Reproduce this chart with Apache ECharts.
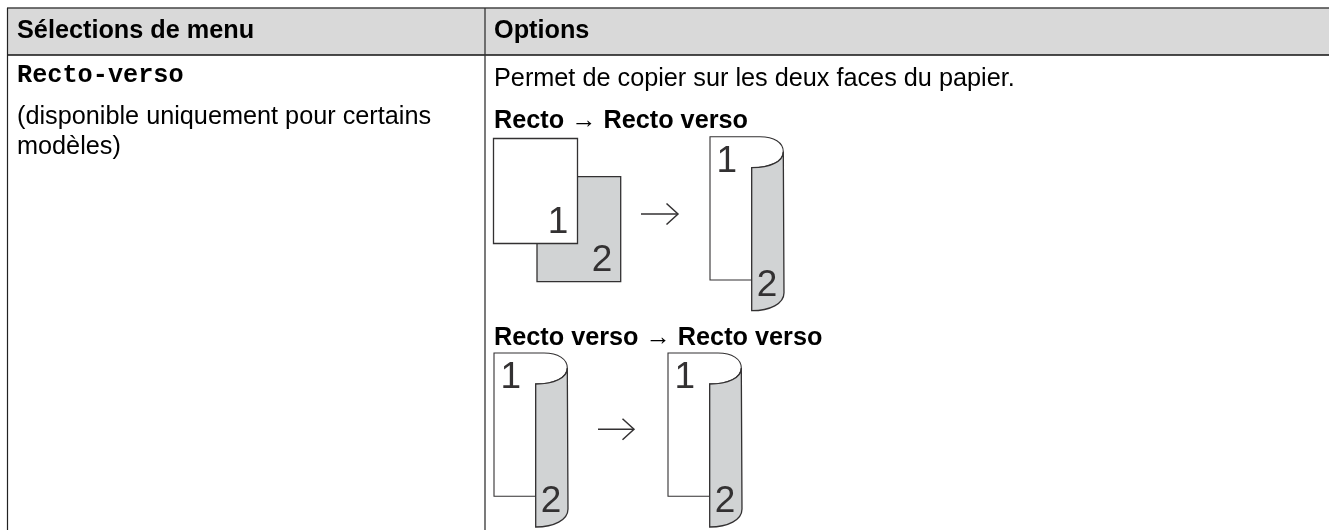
<!DOCTYPE html>
<html><head><meta charset="utf-8">
<style>html,body{margin:0;padding:0;background:#fff}#c{width:1329px;height:530px}</style>
<script src="https://cdn.jsdelivr.net/npm/echarts@6/dist/echarts.min.js"></script>
</head><body><div id="c"></div>
<script>
const headerLabels = ['Sélections de menu', 'Options'];
const menuName = ['Recto-verso'];
const menuNote = ['(disponible uniquement pour certains', 'modèles)'];
const optionIntro = ['Permet de copier sur les deux faces du papier.'];
const captions = ['Recto → Recto verso', 'Recto verso → Recto verso'];
const pageDigits = ['1', '2'];

const SANS = '"Liberation Sans", Arial, sans-serif';
const MONO = '"Liberation Mono", "Courier New", monospace';
const ink = '#333132', paper = '#d1d3d4';
const FS = 25.25;

function t(x, base, text, size, weight, family, fill) {
  return { type: 'text', silent: true, style: { x, y: base - size * 0.78, text, fill: fill || '#000', font: `${weight || 'normal'} ${size}px ${family || SANS}` } };
}
function line(x1, y1, x2, y2, stroke, w) {
  return { type: 'line', silent: true, shape: { x1, y1, x2, y2 }, style: { stroke, lineWidth: w } };
}
function rect(x, y, width, height, fill, stroke, w) {
  return { type: 'rect', silent: true, shape: { x, y, width, height }, style: { fill, stroke: stroke || null, lineWidth: w || 0 } };
}
function digit(cx, base, s) {
  return { type: 'text', silent: true, style: { x: cx, y: base - 37 * 0.78, text: s, fill: ink, font: `37px ${SANS}`, textAlign: 'center' } };
}
function arrow(x1, x2, y) {
  return [ line(x1, y, x2, y, ink, 1.5),
    { type: 'polyline', silent: true, shape: { points: [[x2 - 11.5, y - 10.5], [x2, y], [x2 - 11.5, y + 10.5]] }, style: { stroke: ink, lineWidth: 1.5, fill: null } } ];
}
function folded(x, y) {
  const r = x + 74, sx = x + 41.7;
  const sheet = `M${x} ${y}L${x + 50} ${y}C${x + 64} ${y} ${r - 0.7} ${y + 6} ${r - 0.7} ${y + 15}C${r - 0.7} ${y + 25} ${x + 60} ${y + 31} ${sx} ${y + 31}L${sx} ${y + 143.3}L${x} ${y + 143.3}Z`;
  const back = `M${sx} ${y + 31}C${x + 60} ${y + 31} ${r - 0.7} ${y + 25} ${r - 0.7} ${y + 15}L${r} ${y + 156}C${r} ${y + 167} ${x + 60} ${y + 174} ${sx} ${y + 174}Z`;
  return [
    { type: 'path', silent: true, shape: { pathData: sheet }, style: { fill: '#fff', stroke: ink, lineWidth: 1.1 } },
    { type: 'path', silent: true, shape: { pathData: back }, style: { fill: paper, stroke: ink, lineWidth: 1.3 } },
    digit(x + 16.7, y + 35.5, pageDigits[0]),
    digit(x + 57, y + 159.5, pageDigits[1])
  ];
}
const elements = [
  rect(8, 8, 1321, 47, '#d9d9d9'),
  line(7, 8, 1329, 8, '#444', 1.4),
  line(7, 55, 1329, 55, '#111', 1.5),
  line(7.5, 8, 7.5, 530, '#222', 1.2),
  line(485, 8, 485, 530, '#333', 1.3),
  t(17, 38.3, headerLabels[0], FS, 'bold'),
  t(494, 38.3, headerLabels[1], FS, 'bold'),
  t(17, 83, menuName[0], FS, 'bold', MONO),
  t(17, 124.5, menuNote[0], FS),
  t(17, 154.5, menuNote[1], FS),
  t(494, 86, optionIntro[0], FS),
  t(494, 128, captions[0], FS, 'bold'),
  t(494, 345.5, captions[1], FS, 'bold'),
  rect(537, 176.7, 83.7, 105, paper, ink, 1.3),
  rect(493.5, 138.5, 84, 105, '#fff', ink, 1.3),
  digit(558, 233, pageDigits[0]),
  digit(602, 271, pageDigits[1]),
  ...arrow(641, 678, 214),
  ...folded(710, 136.7),
  ...folded(494, 353),
  ...arrow(598, 634, 429.3),
  ...folded(668, 353)
];
const chart = echarts.init(document.getElementById('c'), null, { renderer: 'canvas', width: 1329, height: 530 });
chart.setOption({
  animation: false, backgroundColor: '#fff',
  series: [{ type: 'custom', coordinateSystem: 'none', silent: true, data: [0],
    renderItem: () => ({ type: 'group', children: elements }) }]
});
</script></body></html>
